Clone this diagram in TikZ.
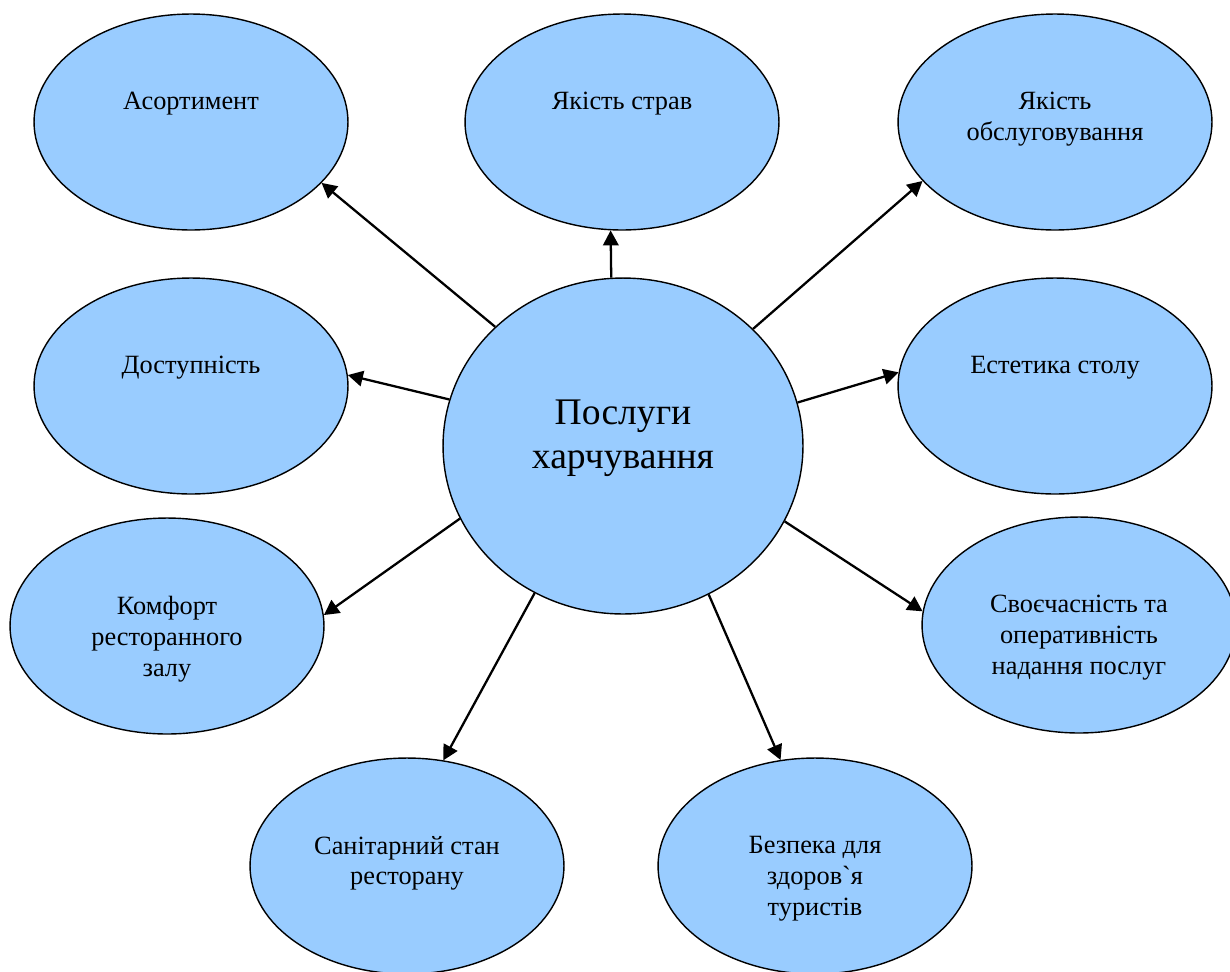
\documentclass[tikz,border=0pt]{standalone}
\usepackage{fontspec}
\setmainfont{Liberation Serif}[Ligatures=TeXOff]
\usetikzlibrary{shapes.geometric, arrows.meta}
\definecolor{ovalblue}{HTML}{99CCFF}
% text sits in the upper part of each oval
\newcommand{\ovaltext}[2][1.2cm]{\parbox[c][#1][t]{4cm}{\centering #2}}

\begin{document}
\begin{tikzpicture}[x=0.02cm, y=-0.02cm,
	oval/.style={ellipse, draw, line width=0.8pt, fill=ovalblue, minimum width=6.28cm, minimum height=4.32cm, inner sep=0pt, font=\fontsize{15}{17.6}\selectfont},
	arr/.style={line width=1.3pt, -{Triangle[length=0.3cm, width=0.31cm]}}]
		\useasboundingbox (0,0) rectangle (1230,971);
		\node[oval] (asort) at (191,122) {\ovaltext{Асортимент}};
		\node[oval] (dishes) at (622,122) {\ovaltext{Якість страв}};
		\node[oval] (service) at (1055,122) {\ovaltext{Якість\\обслуговування}};
		\node[oval] (access) at (191,386) {\ovaltext{Доступність}};
		\node[oval] (aesth) at (1055,386) {\ovaltext{Естетика столу}};
		\node[oval] (comfort) at (167,626) {\ovaltext{Комфорт\\ресторанного\\залу}};
		\node[oval] (timely) at (1079,625) {\ovaltext{Своєчасність та\\оперативність\\надання послуг}};
		\node[oval] (sanit) at (407,866) {\ovaltext{Санітарний стан\\ресторану}};
		\node[oval] (safety) at (815,866) {\ovaltext{Безпека для\\здоров`я\\туристів}};
		\node[oval, minimum width=7.2cm, minimum height=6.72cm, font=\fontsize{21.4}{25}\selectfont] (serv) at (623,446) {\ovaltext[1.84cm]{Послуги\\харчування}};
		\draw[arr] (serv.137.7) -- (asort.335.2);
		\draw[arr] (serv.94) -- (dishes.264.2);
		\draw[arr] (serv.42.5) -- (service.204.3);
		\draw[arr] (serv.165.1) -- (access.4);
		\draw[arr] (serv.14.9) -- (aesth.175.2);
		\draw[arr] (serv.204.9) -- (comfort.4.8);
		\draw[arr] (serv.335.2) -- (timely.175.6);
		\draw[arr] (serv.239.7) -- (sanit.71.3);
		\draw[arr] (serv.300.3) -- (safety.108.7);
	\end{tikzpicture}
\end{document}
